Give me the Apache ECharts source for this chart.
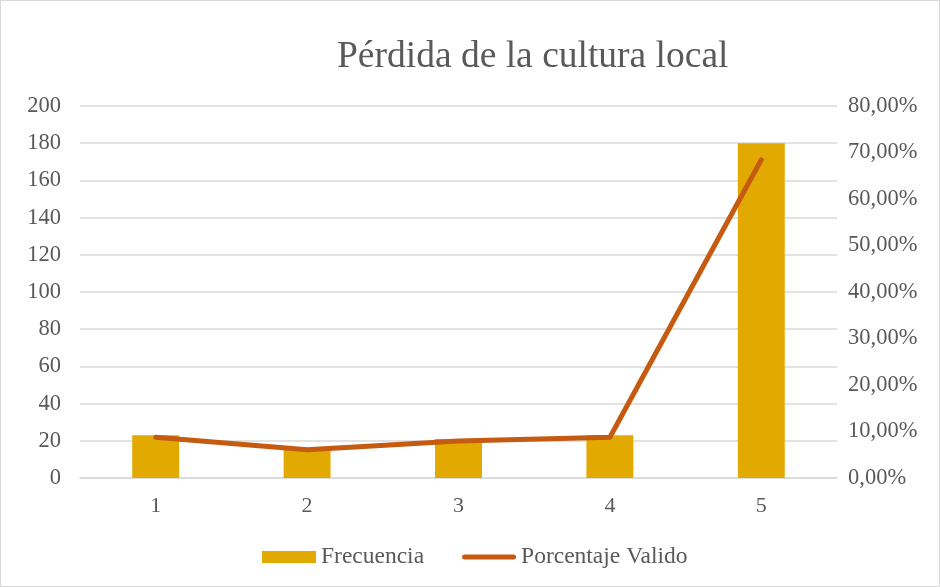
<!DOCTYPE html>
<html>
<head>
<meta charset="utf-8">
<script src="https://cdn.jsdelivr.net/npm/echarts@6/dist/echarts.min.js"></script>
<style>
  html, body { margin: 0; padding: 0; background: #fff; }
  #chart { width: 938px; height: 585px; border: 1px solid #d9d9d9; }
</style>
</head>
<body>
<div id="chart"></div>
<script>
// data
const categories = ['1', '2', '3', '4', '5'];
const frecuencia = [23, 16, 21, 23, 180];
const porcentajeValido = [8.75, 6.08, 7.98, 8.75, 68.44];

const serif = '"Liberation Serif", "Times New Roman", serif';
const textColor = '#595959';

const chart = echarts.init(document.getElementById('chart'));

const option = {
  animation: false,
  title: {
    text: 'Pérdida de la cultura local',
    left: 331,
    top: 32,
    textStyle: { fontFamily: serif, fontSize: 37.5, fontWeight: 'normal', color: textColor }
  },
  legend: {
    bottom: 12,
    left: 256,
    itemWidth: 54,
    itemHeight: 12,
    itemGap: 38,
    textStyle: { fontFamily: serif, fontSize: 23.5, color: textColor },
    data: [
      { name: 'Frecuencia', icon: 'rect' },
      {
        name: 'Porcentaje Valido',
        // thin rounded bar, padded to the full icon box
        icon: 'path://M0,0 M54,12 M2.5,3.5 L51.5,3.5 A2.5,2.5 0 0 1 51.5,8.5 L2.5,8.5 A2.5,2.5 0 0 1 2.5,3.5 Z',
        itemStyle: { color: '#C55A11' }
      }
    ]
  },
  grid: { left: 79, right: 102, top: 105, bottom: 108 },
  xAxis: {
    type: 'category',
    data: categories,
    axisLine: { show: true, lineStyle: { color: '#d9d9d9', width: 1.5 } },
    axisTick: { show: false },
    axisLabel: { fontFamily: serif, fontSize: 22, color: textColor, margin: 17 }
  },
  yAxis: [
    {
      type: 'value',
      min: 0, max: 200, interval: 20,
      axisLine: { show: false },
      axisTick: { show: false },
      splitLine: { lineStyle: { color: '#d9d9d9', width: 1.5 } },
      axisLabel: { fontFamily: serif, fontSize: 22.5, color: textColor, margin: 19 }
    },
    {
      type: 'value',
      min: 0, max: 80, interval: 10,
      axisLine: { show: false },
      axisTick: { show: false },
      splitLine: { show: false },
      axisLabel: {
        fontFamily: serif, fontSize: 22.5, color: textColor, margin: 11,
        formatter: v => v.toFixed(2).replace('.', ',') + '%'
      }
    }
  ],
  series: [
    {
      name: 'Frecuencia',
      type: 'bar',
      data: frecuencia,
      barWidth: '31%',
      itemStyle: { color: '#E2AA00' }
    },
    {
      name: 'Porcentaje Valido',
      type: 'line',
      yAxisIndex: 1,
      data: porcentajeValido,
      symbol: 'none',
      lineStyle: { color: '#C55A11', width: 5, cap: 'round', join: 'round' },
      itemStyle: { color: '#C55A11' }
    }
  ]
};

chart.setOption(option);
</script>
</body>
</html>
